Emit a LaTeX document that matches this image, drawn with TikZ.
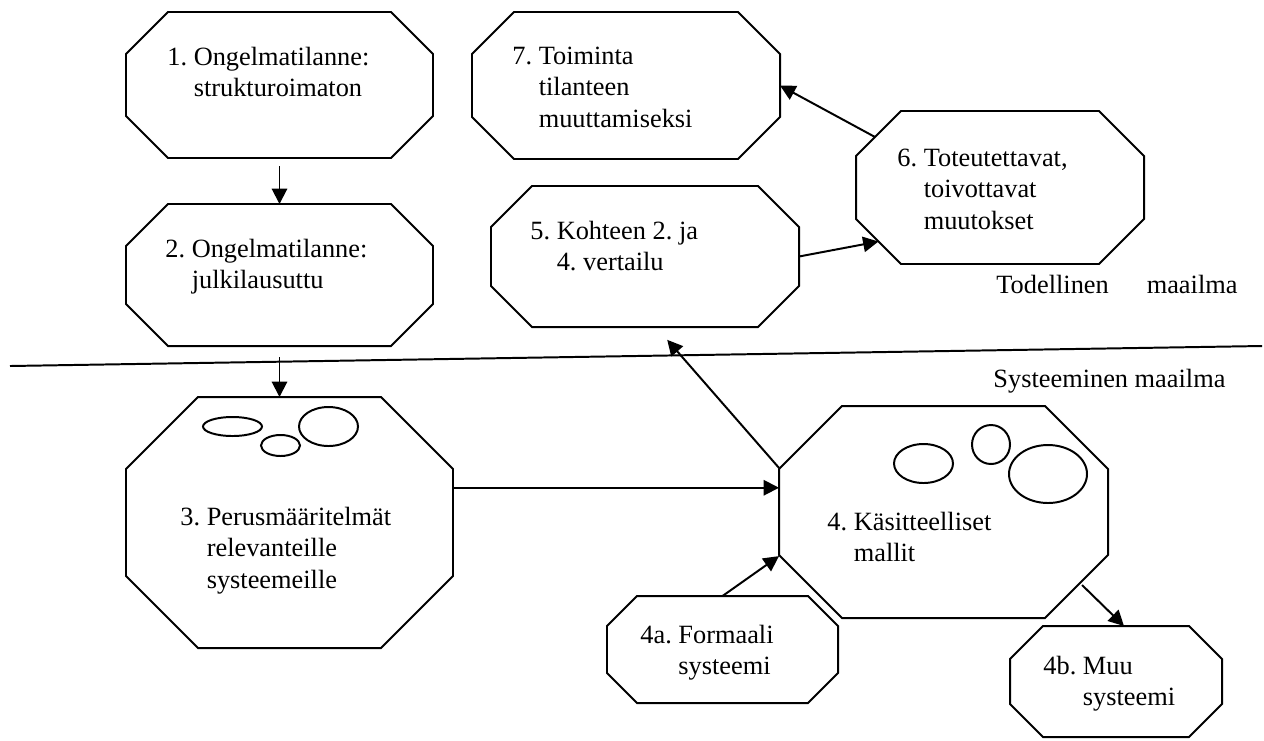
\documentclass[tikz,border=0pt]{standalone}
\usepackage{fontspec}
\setmainfont{Liberation Serif}
\usetikzlibrary{arrows.meta,positioning,calc}
\frenchspacing

\newdimen\pxu
\pxu=0.016cm
\newcommand{\numlines}[1]{\begin{tabular}[t]{@{}l@{\ }l@{}}#1\end{tabular}}

\tikzset{
  box/.style 2 args={rectangle, inner sep=0pt, outer sep=0pt,
    minimum width=#1\pxu, minimum height=#2\pxu},
  edge/.style={line width=0.9pt},
  txt/.style={anchor=base west, inner sep=0pt, font=\fontsize{12}{14.4}\selectfont},
  link/.style={edge, -{Triangle[length=7pt,width=7pt]}}
}

\begin{document}
\begin{tikzpicture}[x=0.016cm, y=-0.016cm]
  \useasboundingbox (0,0) rectangle (1264,740);
  \node[box={307}{146}] (o1) at (279.5,85) {};
  \node[box={307}{142}] (o2) at (279.5,275) {};
  \node[box={327}{251}] (o3) at (289.5,522.5) {};
  \node[box={329}{212}] (o4) at (943.5,512) {};
  \node[box={308}{141}] (o5) at (645,256.5) {};
  \node[box={288}{153}] (o6) at (1000,187.5) {};
  \node[box={308}{147}] (o7) at (626,85.5) {};
  \node[box={231}{107}] (o4a) at (722.5,649.5) {};
  \node[box={212}{111}] (o4b) at (1116,681.5) {};

  \foreach \n/\c in {o1/42,o2/42,o3/72,o4/63,o5/41,o6/45,o7/42,o4a/30,o4b/33}
    \draw[edge] ($(\n.north west)+(\c,0)$) -- ($(\n.north east)+(-\c,0)$)
      -- ($(\n.north east)+(0,\c)$) -- ($(\n.south east)+(0,-\c)$)
      -- ($(\n.south east)+(-\c,0)$) -- ($(\n.south west)+(\c,0)$)
      -- ($(\n.south west)+(0,-\c)$) -- ($(\n.north west)+(0,\c)$) -- cycle;

  \node[txt] (t1) at (167,65) {\numlines{1. & Ongelmatilanne:\\ & strukturoimaton}};
  \node[txt] (t2) at (165,257) {\numlines{2. & Ongelmatilanne:\\ & julkilausuttu}};
  \node[txt] (t3) at (180,525) {\numlines{3. & Perusmääritelmät\\ & relevanteille\\ & systeemeille}};
  \node[txt] (t4) at (827,530) {\numlines{4. & Käsitteelliset\\ & mallit}};
  \node[txt] (t5) at (530,239) {\numlines{5. & Kohteen 2. ja\\ & 4. vertailu}};
  \node[txt] (t6) at (897,166) {\numlines{6. & Toteutettavat,\\ & toivottavat\\ & muutokset}};
  \node[txt] (t7) at (512,64) {\numlines{7. & Toiminta\\ & tilanteen\\ & muuttamiseksi}};
  \node[txt] (t4a) at (640,643) {\numlines{4a. & Formaali\\ & systeemi}};
  \node[txt] (t4b) at (1043,674) {\numlines{4b. & Muu\\ & systeemi}};

  \node[txt] (real) at (996,293) {Todellinen\hspace{38\pxu}maailma};
  \node[txt] (sys) at (993,387) {Systeeminen maailma};

  \coordinate (sepL) at (10,366);
  \coordinate (sepR) at (1262,346);
  \draw[edge] (sepL) -- (sepR);

  \foreach \cx/\cy/\rx/\ry in {232.5/426.5/29.5/9.5, 280.5/445.5/19.5/10.5, 328.5/426.5/29.5/19.5,
      923.5/463.5/29.5/19.5, 991/444.5/19/19.5, 1048/474/39/29}
    \draw[edge] (\cx,\cy) ellipse [x radius=\rx, y radius=\ry];

  \draw[link, shorten <=8\pxu] (o1) -- (o2);
  \draw[link, shorten <=11\pxu] (o2.south) -- (o2.south |- o3.north);
  \draw[link] (o3.12) -- (o3.12 -| o4.west);
  \draw[link, shorten >=17\pxu] (o4.165) -- ($(o5.south)+(11,0)$);
  \draw[link] (o5.east) -- ($(o6.south west)+(22.5,-22.5)$);
  \draw[link] ($(o6.north west)+(19,26)$) -- (o7.east);
  \draw[link] (o4a.north) -- (o4.195);
  \draw[link] ($(o4.south east)+(-26,-33)$) -- ($(o4b.north)+(8,0)$);
\end{tikzpicture}
\end{document}
